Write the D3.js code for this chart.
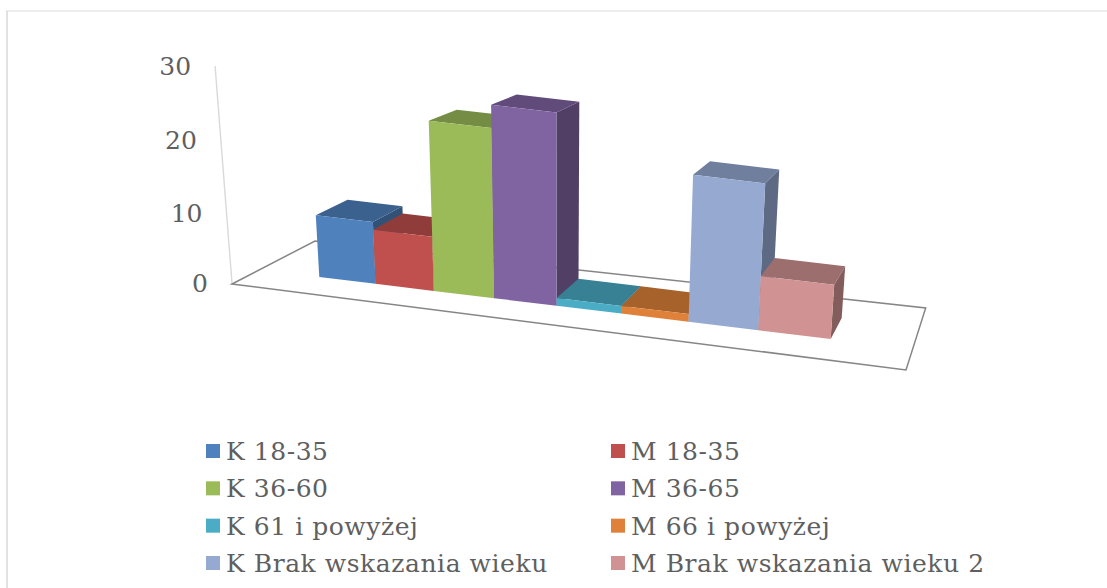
<!DOCTYPE html>
<html><head><meta charset="utf-8">
<script src="https://cdn.jsdelivr.net/npm/d3@7/dist/d3.min.js"></script>
<style>html,body{margin:0;padding:0;background:#fff}svg{display:block}text{font-family:"DejaVu Serif",serif;fill:#5f5f5f}</style>
</head><body><svg id="c" width="1107" height="588"></svg>
<script>
const categories = ["K 18-35","M 18-35","K 36-60","M 36-65","K 61 i powyżej","M 66 i powyżej","K Brak wskazania wieku","M Brak wskazania wieku 2"];
const values = [8,7,22,25,1,1,19,7];
const colors = ["#4F81BD","#C0504D","#9BBB59","#8064A2","#4BACC6","#DF8139","#95A9D1","#D09292"];
const tickValues = [0,10,20,30];

const svg = d3.select("#c");
svg.append("path").attr("d","M7,588V11").attr("fill","none").attr("stroke","#e2e2e2").attr("stroke-width",2);
svg.append("path").attr("d","M6,11H1107").attr("fill","none").attr("stroke","#dcdcdc").attr("stroke-width",1.2);

function homography(p00,p10,p11,p01){
  const dx1=p10[0]-p11[0],dx2=p01[0]-p11[0],sx=p00[0]-p10[0]+p11[0]-p01[0];
  const dy1=p10[1]-p11[1],dy2=p01[1]-p11[1],sy=p00[1]-p10[1]+p11[1]-p01[1];
  const den=dx1*dy2-dx2*dy1;
  const g=(sx*dy2-dx2*sy)/den,h=(dx1*sy-sx*dy1)/den;
  const a=p10[0]-p00[0]+g*p10[0],b=p01[0]-p00[0]+h*p01[0],c=p00[0];
  const d=p10[1]-p00[1]+g*p10[1],e=p01[1]-p00[1]+h*p01[1],f=p00[1];
  return (u,v)=>{const w=g*u+h*v+1;return [(a*u+b*v+c)/w,(d*u+e*v+f)/w];};
}
const floor = homography([319.3,277],[830.7,339],[841.7,318],[350.5,258.7]);
const persp = 0.876;
const xPos = i=>{const t=i/categories.length;return persp*t/(1+(persp-1)*t);};
const yAxisScale = d3.scaleLinear().domain(tickValues).range([0,70,143,217]);
const yBar = d3.scaleLinear().domain([0,30]).range([0,232]);
const vanish = [560,4500];
function pt(u,v,val){
  const P = floor(u,v);
  const h = yBar(val)*(1-0.046*v);
  const s = h/(vanish[1]-P[1]);
  return [P[0]+(P[0]-vanish[0])*s, P[1]-h];
}
const line = d3.line();

const frame = [[232,284],[315,241],[925.7,308],[906,370]];
svg.append("path").attr("d",line(frame)+"Z").attr("fill","none").attr("stroke","#868686").attr("stroke-width",1.5);
const axisBase=[232,283], axisTilt=-17/218;
const axisPt=v=>[axisBase[0]+axisTilt*yAxisScale(v),axisBase[1]-yAxisScale(v)];
svg.append("path").attr("d",line([axisPt(0),axisPt(30)])).attr("stroke","#d9d9d9").attr("stroke-width",1.4).attr("fill","none");
svg.selectAll(".tick").data(tickValues).join("text").attr("class","tick")
  .attr("x",d=>axisPt(d)[0]-24).attr("y",d=>axisPt(d)[1]+9).attr("text-anchor","end")
  .attr("font-size",25).text(d=>d);

categories.forEach((cat,i)=>{
  const u0=xPos(i),u1=xPos(i+1),val=values[i],base=d3.rgb(colors[i]);
  const mul=(k)=>d3.rgb(base.r*k,base.g*k,base.b*k).formatHex();
  const g=svg.append("g");
  g.append("path").attr("d",line([pt(u1,0,0),pt(u1,1,0),pt(u1,1,val),pt(u1,0,val)])+"Z").attr("fill",mul(0.63));
  g.append("path").attr("d",line([pt(u0,0,val),pt(u1,0,val),pt(u1,1,val),pt(u0,1,val)])+"Z").attr("fill",mul(0.75));
  g.append("path").attr("d",line([pt(u0,0,0),pt(u1,0,0),pt(u1,0,val),pt(u0,0,val)])+"Z").attr("fill",base.formatHex());
});

const legX=d3.scaleOrdinal().domain([0,1]).range([206,611]);
const legY=d3.scaleLinear().domain([0,3]).range([451,563]);
categories.forEach((cat,i)=>{
  const col=i%2,row=Math.floor(i/2);
  svg.append("rect").attr("x",legX(col)).attr("y",legY(row)-7).attr("width",14).attr("height",14).attr("fill",colors[i]);
  svg.append("text").attr("x",legX(col)+20).attr("y",legY(row)+9).attr("font-size",25).attr("letter-spacing",0.55).text(cat);
});
</script></body></html>
